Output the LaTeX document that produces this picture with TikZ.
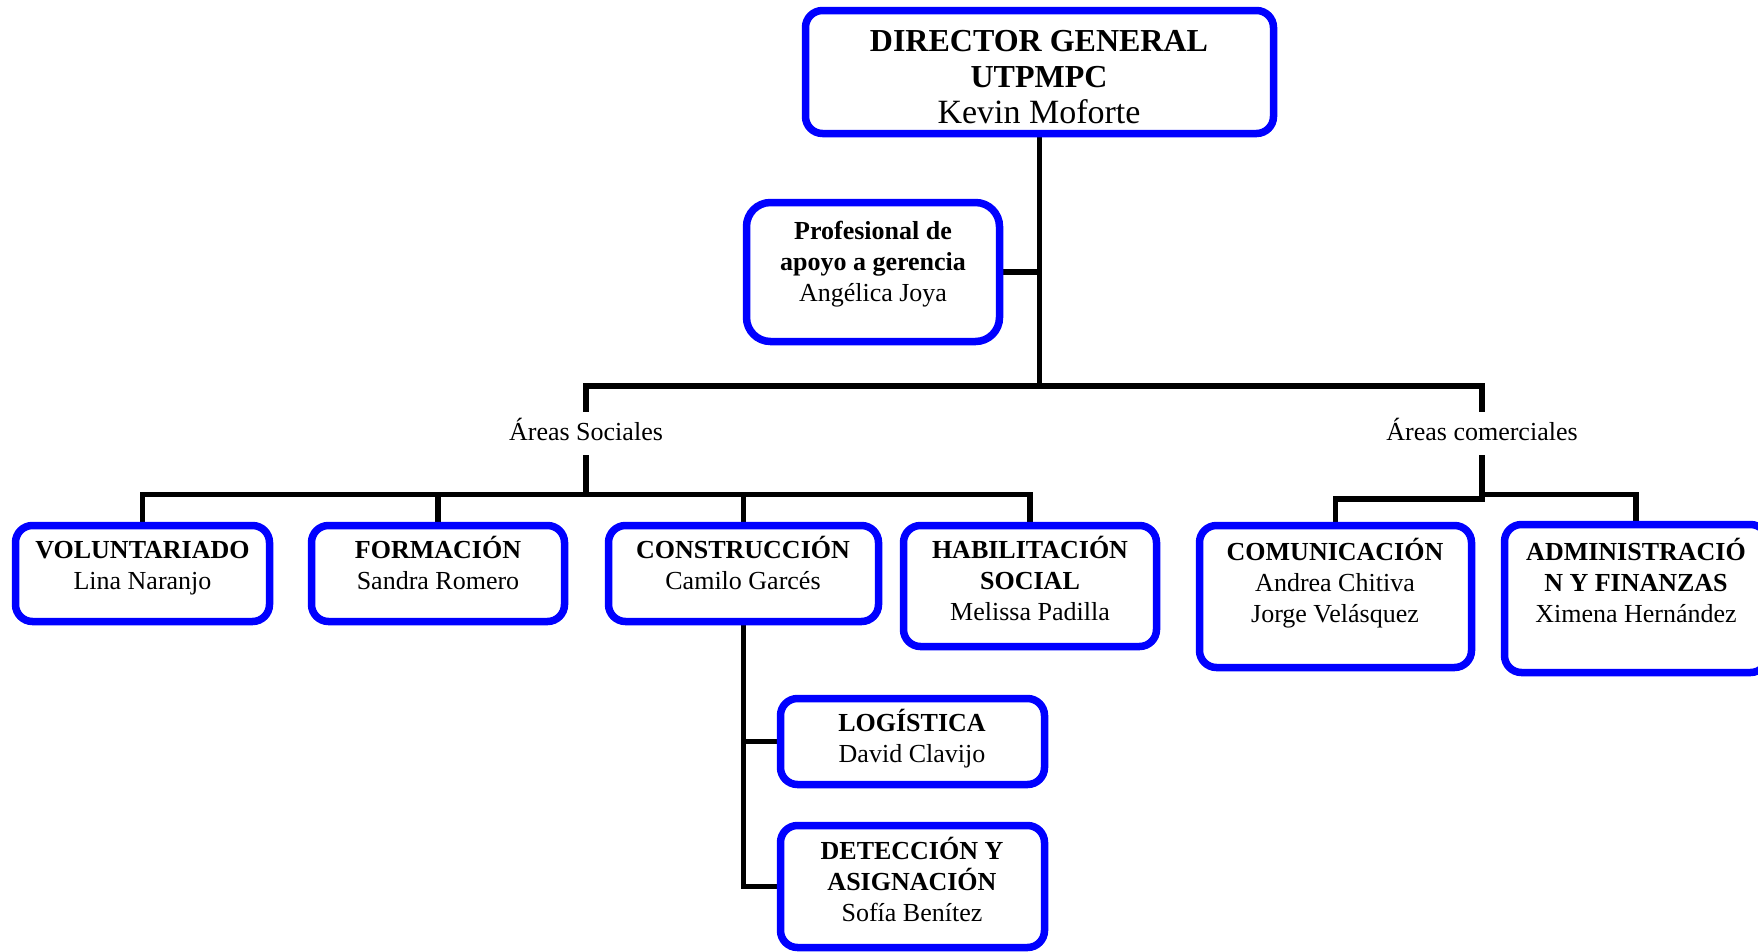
\documentclass[tikz,border=0pt]{standalone}
\usepackage{fontspec}
\setmainfont{Liberation Serif}
\usetikzlibrary{backgrounds}
\definecolor{boxblue}{RGB}{0,0,255}
\newcommand{\mltx}[1]{\begin{tabular}[t]{@{}c@{}}#1\end{tabular}}
\begin{document}
\begin{tikzpicture}[x=1pt,y=-1pt,
  orgbox/.style={rectangle, draw=boxblue, line width=7.5pt, rounded corners=17pt, fill=white, inner sep=0pt},
  link/.style={draw=black, line width=5.5pt},
  btxt/.style={anchor=base, inner sep=0pt, font=\fontsize{26}{31}\selectfont},
  arealbl/.style={inner sep=0pt, font=\fontsize{26}{31}\selectfont, text height=20pt, text depth=7pt, minimum height=43pt}
]
\useasboundingbox (0,0) rectangle (1758,951);

% boxes
\node[orgbox, minimum width=468pt, minimum height=123pt] (dir) at (1039.5,72) {};
\node[orgbox, rounded corners=24pt, minimum width=253pt, minimum height=139pt] (prof) at (873,272) {};
\node[orgbox, minimum width=254pt, minimum height=96pt] (vol) at (142.5,573.5) {};
\node[orgbox, minimum width=253pt, minimum height=96pt] (form) at (438,573.5) {};
\node[orgbox, minimum width=270pt, minimum height=96pt] (cons) at (743.5,573.5) {};
\node[orgbox, minimum width=253pt, minimum height=121pt] (hab) at (1030,586) {};
\node[orgbox, minimum width=272pt, minimum height=142pt] (comu) at (1335.5,596.5) {};
\node[orgbox, minimum width=263pt, minimum height=148pt] (adm) at (1636,598.5) {};
\node[orgbox, minimum width=264pt, minimum height=86pt] (logi) at (912.5,741.5) {};
\node[orgbox, minimum width=264pt, minimum height=122pt] (dete) at (912.5,886.5) {};

% area labels
\node[arealbl] (soc) at (586,433.5) {Áreas Sociales};
\node[arealbl] (coml) at (1482,433.5) {Áreas comerciales};

% texts
\node[btxt, font=\fontsize{32}{36}\selectfont] (dirt) at (1039,51) {\mltx{\textbf{DIRECTOR GENERAL}\\ \textbf{UTPMPC}\\ {\fontsize{34}{36}\selectfont Kevin Moforte}}};
\node[btxt] (proft) at (873,239) {\mltx{\textbf{Profesional de}\\ \textbf{apoyo a gerencia}\\ Angélica Joya}};
\node[btxt] (volt) at (142.5,558) {\mltx{\textbf{VOLUNTARIADO}\\ Lina Naranjo}};
\node[btxt] (formt) at (438,558) {\mltx{\textbf{FORMACIÓN}\\ Sandra Romero}};
\node[btxt] (const) at (743,558) {\mltx{\textbf{CONSTRUCCIÓN}\\ Camilo Garcés}};
\node[btxt] (habt) at (1030,558) {\mltx{\textbf{HABILITACIÓN}\\ \textbf{SOCIAL}\\ Melissa Padilla}};
\node[btxt] (comut) at (1335,560) {\mltx{\textbf{COMUNICACIÓN}\\ Andrea Chitiva\\ Jorge Velásquez}};
\node[btxt] (admt) at (1636,560) {\mltx{\textbf{ADMINISTRACIÓ}\\ \textbf{N Y FINANZAS}\\ Ximena Hernández}};
\node[btxt] (logit) at (912,731) {\mltx{\textbf{LOGÍSTICA}\\ David Clavijo}};
\node[btxt] (detet) at (912,859) {\mltx{\textbf{DETECCIÓN Y}\\ \textbf{ASIGNACIÓN}\\ Sofía Benítez}};

% connectors
\coordinate (j1) at (1039.5,386);
\coordinate (sj) at (586,494.5);
\coordinate (cjl) at (1482,499);
\coordinate (cjr) at (1482,494.5);
\begin{scope}[on background layer]
\draw[link] (dir.south) -- (j1);
\draw[link] (soc.north) |- (j1) -| (coml.north);
\draw[link] (prof.east) -- (prof.east -| j1);
\draw[link] (soc.south) -- (sj);
\draw[link] (vol.north) |- (sj) -| (hab.north);
\draw[link] (form.north) -- (form.north |- sj);
\draw[link] (cons.north) -- (cons.north |- sj);
\draw[link] (coml.south) -- (cjl) -| (comu.north);
\draw[link] (cjr) -| (adm.north);
\draw[link] (cons.south) |- (logi.west);
\draw[link] (cons.south) |- (dete.west);
\end{scope}
\end{tikzpicture}
\end{document}
